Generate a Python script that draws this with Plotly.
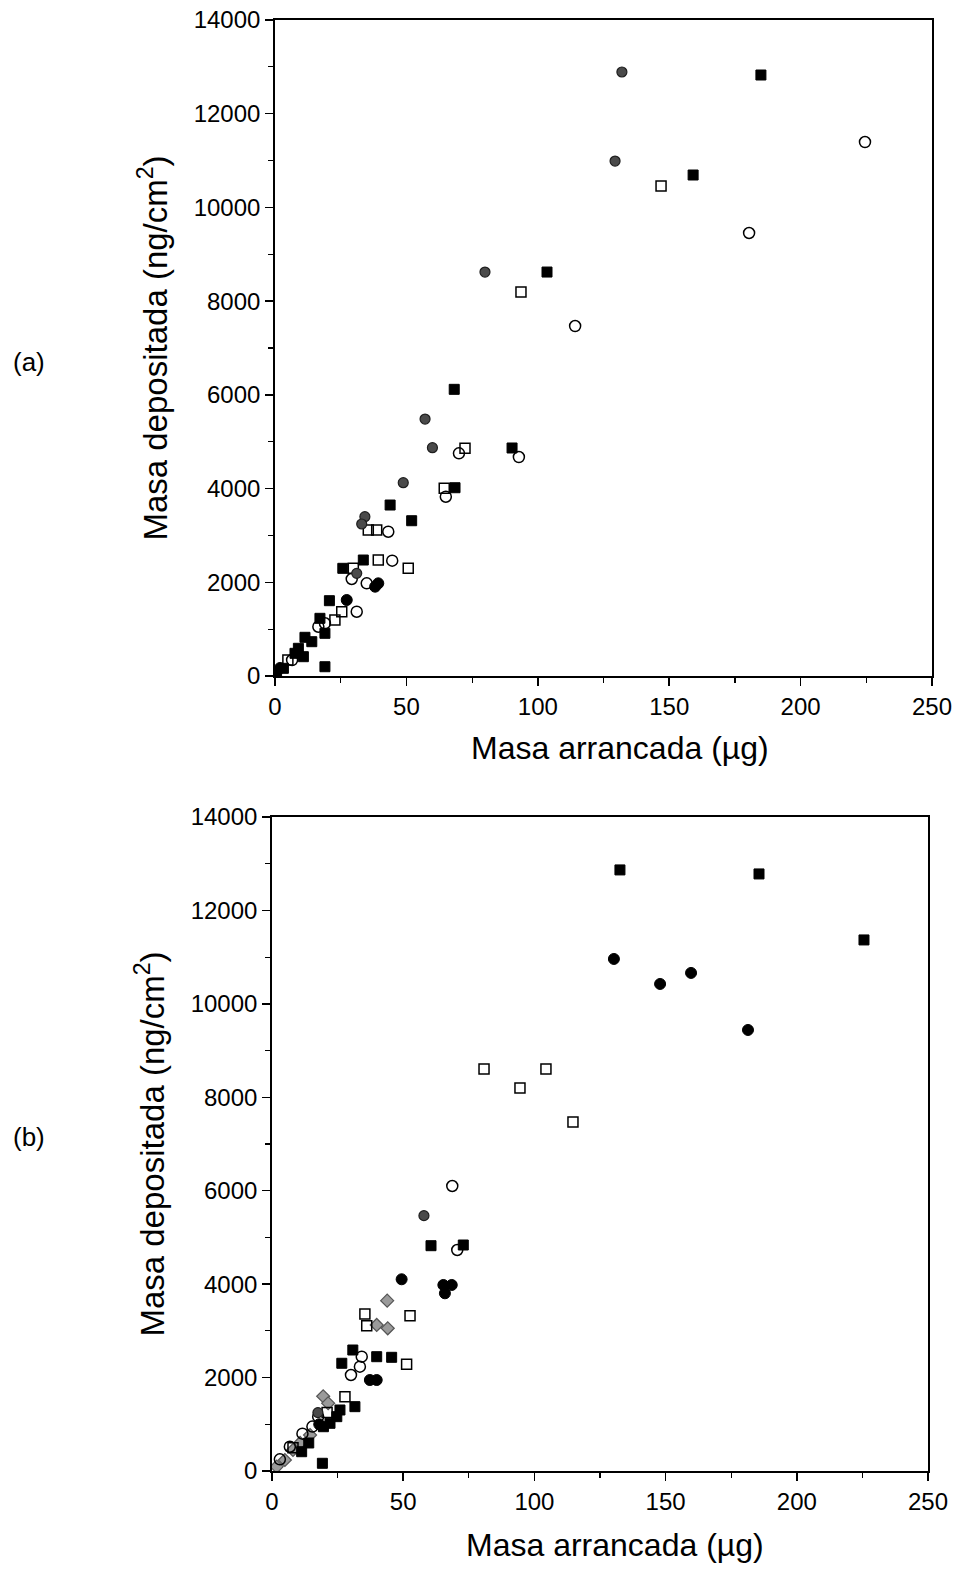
import plotly.graph_objects as go

# ---------- Panel (a) data ----------
a_fsq_x = [184.9, 159.1, 103.5, 68.2, 90.2, 68.5, 43.8, 52.0, 33.6, 25.8, 20.7, 17.1, 19.0, 11.4, 14.0, 8.9, 7.6, 10.8, 19.0, 3.2, 0.6]
a_fsq_y = [12826, 10692, 8621, 6118, 4866, 4018, 3649, 3314, 2475, 2298, 1607, 1231, 911, 826, 732, 591, 484, 412, 198, 164, 92]
a_osq_x = [146.9, 93.6, 72.3, 64.4, 35.5, 38.7, 39.3, 50.7, 29.8, 25.4, 22.8, 4.9]
a_osq_y = [10457, 8195, 4859, 4006, 3116, 3116, 2475, 2298, 2298, 1372, 1195, 341]
a_ocir_x = [224.5, 180.4, 114.2, 70.0, 92.8, 65.0, 43.1, 44.6, 29.2, 34.9, 31.1, 19.0, 16.5, 6.5]
a_ocir_y = [11396, 9454, 7469, 4752, 4673, 3826, 3079, 2461, 2070, 1978, 1372, 1125, 1052, 341]
a_gcir_x = [132.0, 129.4, 79.9, 57.1, 59.9, 48.8, 34.2, 33.0, 31.1]
a_gcir_y = [12890, 10990, 8621, 5484, 4872, 4125, 3400, 3244, 2191]
a_fcir_x = [38.1, 39.3, 27.3, 1.9]
a_fcir_y = [1906, 1978, 1622, 170]

# ---------- Panel (b) data ----------
b_fsq_x = [132.6, 185.6, 225.6, 60.6, 72.9, 30.8, 26.6, 39.9, 45.6, 31.6, 25.9, 24.7, 22.1, 19.6, 11.3, 19.2, 14.0]
b_fsq_y = [12867, 12781, 11368, 4823, 4838, 2590, 2306, 2447, 2434, 1377, 1306, 1163, 1021, 948, 413, 165, 600]
b_fcir_x = [130.3, 147.9, 159.7, 181.4, 49.4, 65.3, 68.5, 65.9, 37.3, 39.9, 18.0]
b_fcir_y = [10961, 10426, 10662, 9441, 4104, 3982, 3982, 3804, 1948, 1948, 1000]
b_osq_x = [80.8, 94.5, 104.4, 114.7, 35.4, 52.6, 36.1, 51.3, 27.8, 21.0, 8.0]
b_osq_y = [8606, 8200, 8606, 7472, 3361, 3325, 3111, 2284, 1591, 1250, 500]
b_ocir_x = [68.7, 70.6, 34.2, 33.5, 30.1, 17.6, 11.6, 15.4, 6.8, 3.0]
b_ocir_y = [6101, 4731, 2447, 2233, 2055, 1163, 800, 950, 520, 250]
b_gcir_x = [57.9, 17.5]
b_gcir_y = [5466, 1250]
b_gdia_x = [43.9, 39.9, 44.1, 19.5, 21.4, 1.8, 4.9, 8.0, 10.7, 14.5]
b_gdia_y = [3646, 3126, 3055, 1600, 1450, 92, 235, 450, 600, 770]

x_ticks = [0, 50, 100, 150, 200, 250]
x_labels = ["0", "50", "100", "150", "200", "250"]
y_ticks = [0, 2000, 4000, 6000, 8000, 10000, 12000, 14000]
y_labels = ["0", "2000", "4000", "6000", "8000", "10000", "12000", "14000"]
x_title = "Masa arrancada (µg)"
y_title = "Masa depositada (ng/cm<sup>2</sup>)"

FONT = "Liberation Sans, Arial, sans-serif"

styles = {
    "fsq": dict(symbol="square", size=10, color="black", line=dict(color="black", width=1)),
    "osq": dict(symbol="square-open", size=10, color="black", line=dict(color="black", width=1.5)),
    "ocir": dict(symbol="circle-open", size=11, color="black", line=dict(color="black", width=1.5)),
    "gcir": dict(symbol="circle", size=10, color="#4a4a4a", line=dict(color="#1e1e1e", width=1.2)),
    "fcir": dict(symbol="circle", size=11, color="black", line=dict(color="black", width=1)),
    "gdia": dict(symbol="diamond", size=10, color="#9a9a9a", line=dict(color="#555", width=1.2)),
}

fig = go.Figure()

def add(x, y, st, xa, ya):
    fig.add_trace(go.Scatter(x=x, y=y, mode="markers", marker=styles[st],
                             xaxis=xa, yaxis=ya, showlegend=False))

add(a_ocir_x, a_ocir_y, "ocir", "x", "y")
add(a_osq_x, a_osq_y, "osq", "x", "y")
add(a_gcir_x, a_gcir_y, "gcir", "x", "y")
add(a_fcir_x, a_fcir_y, "fcir", "x", "y")
add(a_fsq_x, a_fsq_y, "fsq", "x", "y")

add(b_gdia_x, b_gdia_y, "gdia", "x2", "y2")
add(b_ocir_x, b_ocir_y, "ocir", "x2", "y2")
add(b_osq_x, b_osq_y, "osq", "x2", "y2")
add(b_gcir_x, b_gcir_y, "gcir", "x2", "y2")
add(b_fcir_x, b_fcir_y, "fcir", "x2", "y2")
add(b_fsq_x, b_fsq_y, "fsq", "x2", "y2")

W, H = 958, 1570

def px(v):
    return v / W

def py(v):
    return 1 - v / H

def xax(domain, anchor):
    return dict(domain=domain, anchor=anchor, range=[0, 250], tickvals=x_ticks, ticktext=x_labels,
                ticks="outside", ticklen=8, tickwidth=1.5, tickcolor="black",
                minor=dict(dtick=25, tick0=0, ticks="outside", ticklen=5, tickwidth=1.2, tickcolor="black"),
                showline=True, linecolor="black", linewidth=1.8, mirror=True,
                showgrid=False, zeroline=False, automargin=False, ticklabeloverflow="allow",
                tickfont=dict(family=FONT, size=24, color="black"))

def yax(domain, anchor, standoff):
    return dict(domain=domain, anchor=anchor, range=[0, 14000], tickvals=y_ticks, ticktext=y_labels,
                ticks="outside", ticklen=8, tickwidth=1.5, tickcolor="black",
                minor=dict(dtick=1000, tick0=0, ticks="outside", ticklen=5, tickwidth=1.2, tickcolor="black"),
                showline=True, linecolor="black", linewidth=1.8, mirror=True,
                showgrid=False, zeroline=False, automargin=False, ticklabeloverflow="allow",
                tickfont=dict(family=FONT, size=24, color="black"),
                title=dict(text=y_title, font=dict(family=FONT, size=33, color="black"), standoff=standoff))

def ann(text, x, y, size):
    return dict(text=text, x=px(x), y=py(y), xref="paper", yref="paper", showarrow=False,
                xanchor="center", yanchor="middle", font=dict(family=FONT, size=size, color="black"))

fig.update_layout(
    width=W, height=H, autosize=False,
    margin=dict(l=0, r=0, t=0, b=0),
    paper_bgcolor="white", plot_bgcolor="white",
    hovermode=False,
    xaxis=xax([px(275), px(932)], "y"),
    yaxis=yax([py(676), py(20)], "x", 16),
    xaxis2=xax([px(272), px(928)], "y2"),
    yaxis2=yax([py(1471), py(817)], "x2", 16),
    annotations=[
        ann("(a)", 29, 362, 26),
        ann("(b)", 29, 1137, 26),
        ann(x_title, 620, 748, 32),
        ann(x_title, 615, 1545, 32),
    ],
)

fig.write_html("out.html",
               config={"displayModeBar": False, "staticPlot": True},
               post_script="document.body.style.margin='0';document.body.style.overflow='hidden';")
